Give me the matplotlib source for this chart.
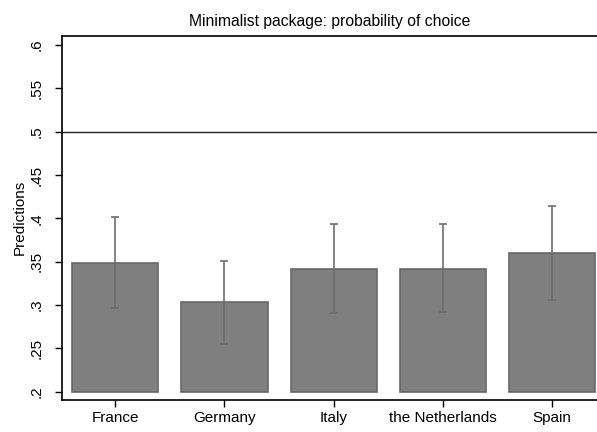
import matplotlib.pyplot as plt

plt.rcParams['font.family'] = ['Liberation Sans', 'DejaVu Sans']

countries = ["France", "Germany", "Italy", "the Netherlands", "Spain"]
pred = [0.349, 0.303, 0.3415, 0.342, 0.360]
ci_low = [0.297, 0.255, 0.291, 0.292, 0.306]
ci_high = [0.402, 0.351, 0.3935, 0.394, 0.414]
yticks = [0.2, 0.25, 0.3, 0.35, 0.4, 0.45, 0.5, 0.55, 0.6]
yticklabels = [".2", ".25", ".3", ".35", ".4", ".45", ".5", ".55", ".6"]
base = 0.2

fig = plt.figure(figsize=(5.97, 4.32), dpi=100)
ax = fig.add_axes([0.1034, 0.074, 0.8966, 0.8436])

x = list(range(len(countries)))
heights = [p - base for p in pred]
ax.bar(x, heights, bottom=base, width=0.79, color="#7f7f7f",
       edgecolor="#686868", linewidth=1.2, zorder=2)
yerr = [[p - lo for p, lo in zip(pred, ci_low)],
        [hi - p for p, hi in zip(pred, ci_high)]]
ax.errorbar(x, pred, yerr=yerr, fmt="none", ecolor="#6e6e6e",
            elinewidth=1.2, capsize=2.9, capthick=1.2, zorder=3)
ax.axhline(0.5, color="#222222", linewidth=1.0, zorder=1)

ax.set_xlim(-0.488, 4.409)
ax.set_ylim(0.1904, 0.611)
ax.set_xticks(x)
ax.set_xticklabels(countries, fontsize=11)
ax.set_yticks(yticks)
ax.set_yticklabels(yticklabels, fontsize=11, rotation=90, va="center")
ax.tick_params(axis="y", length=5, width=1, pad=8)
ax.tick_params(axis="x", length=5, width=1, pad=3)
ax.spines["right"].set_visible(False)
for s in ["left", "bottom", "top"]:
    ax.spines[s].set_linewidth(1.2)
ax.set_ylabel("Predictions", fontsize=11, labelpad=2)
ax.set_title("Minimalist package: probability of choice", fontsize=11.3, pad=7)

fig.savefig("out.png", dpi=100)
